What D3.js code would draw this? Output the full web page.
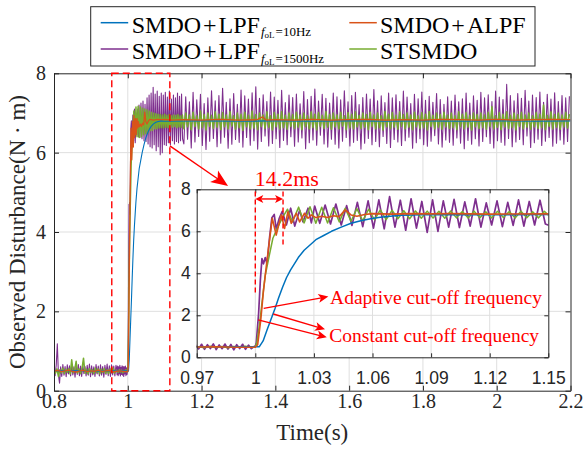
<!DOCTYPE html>
<html lang="en">
<head>
<meta charset="UTF-8">
<title>Observed disturbance</title>
<script src="https://cdn.jsdelivr.net/npm/d3@7/dist/d3.min.js"></script>
<style>
  body { margin: 0; background: #fff; }
  svg { display: block; }
  svg text.serif { font-family: 'Liberation Serif', 'Times New Roman', serif; }
  svg text.sans { font-family: 'Liberation Sans', Arial, sans-serif; }
</style>
</head>
<body>
<svg id="chart" width="585" height="451"></svg>
<script>
// matlab default colours
const colBlue = '#0072BD', colOrange = '#D95319', colPurple = '#7E2F8E', colGreen = '#77AC30';
const red = '#FF0000';

const mainXTicks = [0.8, 1, 1.2, 1.4, 1.6, 1.8, 2, 2.2];
const mainYTicks = [0, 2, 4, 6, 8];
const insetXTicks = [0.97, 1, 1.03, 1.06, 1.09, 1.12, 1.15];
const insetYTicks = [0, 2, 4, 6, 8];

// ---- SMDO+LPF 1500Hz (purple) ----
// from 0.8 s, one sample every 3 ms
const purplePreA = [0.62,0.38,0.64,1.18,0.40,0.19,0.60,0.36,0.66,0.39,0.61,0.35,0.65,0.42,0.63,0.37,0.67,0.40,0.60,0.34,
  0.64,0.41,0.66,0.38,0.62,0.36,0.65,0.43,0.61,0.37,0.64,0.39,0.67,0.35,0.63,0.40,0.60,0.36,0.66,0.42,
  0.62,0.37,0.65,0.39,0.61,0.34,0.64,0.41,0.67,0.38,0.63,0.36,0.65,0.40,0.62,0.37,0.64];
// from 0.9695 s, every 1.5 ms
const purplePreB = [0.58,0.40,0.62,0.38,0.60,0.42,0.64,0.37,0.59,0.41,0.63,0.39,0.61,0.36,0.60,0.42,0.62,0.38,0.58,0.41,0.52];
const purpleStep = [[1.0,0.5],[1.0005,0.7],[1.0017,2.1],[1.0026,3.7],[1.0034,4.7],[1.0042,4.45],[1.0051,4.75],[1.006,4.45],
  [1.0073,5.7],[1.0085,6.65],[1.0097,6.8],[1.0107,6.1],[1.0122,6.6],[1.0138,6.95],[1.0159,6.3],[1.0181,7.1],
  [1.0202,6.25],[1.0227,7.0],[1.0244,6.45],[1.027,7.1],[1.0287,6.4],[1.0304,7.2]];
// from 1.033 s, every 2.75 ms
const purpleMid = [6.38,7.25,6.35,7.3,6.3,7.22,6.28,7.38,6.22,7.45,6.15,7.5,6.12,7.65,6.2,7.48,6.05,7.55,6.15,7.42,
  5.95,7.5,6.0,7.45,6.2,7.52,6.18,7.4,6.25,7.55,6.2,7.35,6.3,7.45,6.22,7.38,6.28,7.5,6.25,7.42,6.3,7.48,6.35];
// from 1.152 s, every 5 ms
const purpleTail = [
  6.22,7.41, 6.34,7.28, 6.12,7.52, 6.27,7.33, 6.41,7.47, 6.18,7.24, 6.08,7.38, 6.29,7.56, 6.36,7.31, 6.15,7.44,
  6.24,7.62, 6.39,7.27, 6.11,7.36, 6.21,7.49, 6.33,7.22, 6.26,7.58, 6.14,7.43, 6.38,7.35, 6.19,7.51, 6.3,7.66,
  6.09,7.37, 6.28,7.46, 6.42,7.29, 6.17,7.53, 6.23,7.4, 6.35,7.32, 6.13,7.57, 6.31,7.26, 6.2,7.45, 6.4,7.39,
  6.16,7.48, 6.27,7.23, 6.37,7.54, 6.1,7.34, 6.25,7.42, 6.32,7.6, 6.19,7.3, 6.44,7.47, 6.22,7.37, 6.14,7.25,
  6.34,7.5, 6.21,7.41, 6.12,7.33, 6.29,7.56, 6.38,7.28, 6.17,7.44, 6.26,7.52, 6.31,7.21, 6.09,7.39, 6.24,7.48,
  6.36,7.35, 6.2,7.59, 6.28,7.31, 6.15,7.43, 6.41,7.26, 6.23,7.5, 6.13,7.38, 6.33,7.46, 6.27,7.29, 6.18,7.55,
  6.3,7.4, 6.39,7.24, 6.11,7.47, 6.25,7.36, 6.35,7.53, 6.2,7.32, 6.16,7.42, 6.29,7.27, 6.43,7.49, 6.22,7.34,
  6.14,7.22, 6.32,7.41, 6.26,7.3, 6.19,7.45, 6.37,7.28, 6.24,7.36, 6.1,7.5, 6.31,7.25, 6.21,7.43, 6.35,7.32,
  6.17,7.52, 6.28,7.38, 6.4,7.46, 6.23,7.29, 6.12,7.55, 6.3,7.4, 6.26,7.34, 6.19,7.72, 6.36,7.44, 6.15,7.31,
  6.27,7.49, 6.33,7.37, 6.2,7.57, 6.42,7.3, 6.13,7.45, 6.25,7.39, 6.34,7.53, 6.18,7.27, 6.29,7.47, 6.38,7.35,
  6.16,7.51, 6.24,7.29, 6.32,7.44, 6.21,7.38, 6.28,7.42];

// ---- STSMDO (green) ----
// from 0.8 s, every 4 ms
const greenPreA = [0.52,0.44,0.55,0.36,0.53,0.45,0.57,0.43,0.54,0.46,0.56,0.42,0.78,0.45,0.53,0.74,0.44,0.55,0.43,0.57,
  0.82,0.44,0.54,0.42,0.56,0.46,0.53,0.43,0.57,0.45,0.55,0.42,0.54,0.46,0.56,0.44,0.53,0.43,0.55,0.45,0.57,0.44,0.52];
// from 0.971 s, every 3 ms
const greenPreB = [0.5,0.46,0.53,0.47,0.52,0.45,0.51,0.48,0.53,0.47];
const greenStep = [[1.0,0.5],[1.0008,0.7],[1.0022,1.6],[1.0039,2.97],[1.0051,3.9],[1.0065,4.55],[1.009,5.67],[1.0116,6.22],
  [1.0142,6.7],[1.0165,7.05],[1.019,6.45],[1.0222,7.15],[1.025,6.4],[1.028,7.17],[1.031,6.38]];
// from 1.034 s, every 3 ms
const greenMid = [7.15,6.4,7.12,6.45,7.1,6.48,7.08,6.5,7.05,6.55,7.02,6.56,7.0,6.6,6.98,6.6,6.97,6.62,6.96,6.63,
  6.95,6.62,6.97,6.64,6.94,6.63,6.96,6.65,6.93,6.64,6.95,6.66,6.94,6.63,6.96,6.65,6.93,6.64,6.95];
// from 1.152 s, every 5 ms
const greenTail = [
  6.6,7.0, 6.65,6.95, 6.58,7.02, 6.66,6.93, 6.6,7.05, 6.63,6.96, 6.57,7.0, 6.66,6.94, 6.61,7.03, 6.64,6.97,
  6.58,7.01, 6.65,6.95, 6.6,7.04, 6.67,6.93, 6.59,7.0, 6.63,6.97, 6.56,7.02, 6.65,6.94, 6.6,7.05, 6.62,6.96,
  6.58,7.0, 6.66,6.95, 6.61,7.03, 6.64,6.93, 6.57,7.01, 6.65,6.97, 6.6,7.04, 6.63,6.94, 6.59,7.0, 6.66,6.96,
  6.61,7.02, 6.64,6.95, 6.58,7.0, 6.65,6.93, 6.6,7.03, 6.63,6.97, 6.57,7.01, 6.66,6.94, 6.61,7.04, 6.64,6.96,
  6.59,7.0, 6.65,6.95, 6.6,7.02, 6.67,6.93, 6.58,7.01, 6.63,6.97, 6.6,7.03, 6.65,6.94, 6.61,7.0, 6.64,6.96,
  6.58,7.02, 6.66,6.95, 6.6,7.0, 6.63,6.93, 6.57,7.04, 6.65,6.97, 6.61,7.01, 6.64,6.94, 6.59,7.03, 6.66,6.96,
  6.6,7.0, 6.64,6.95, 6.58,7.02, 6.65,6.93, 6.61,7.01, 6.63,6.97, 6.57,7.04, 6.66,6.94, 6.6,7.0, 6.64,6.96,
  6.59,7.02, 6.65,6.95, 6.61,7.0, 6.63,6.93, 6.58,7.03, 6.66,6.97, 6.6,7.01, 6.64,6.94, 6.57,7.0, 6.65,6.96,
  6.61,7.0, 6.63,6.95, 6.59,7.02, 6.66,7.16, 6.6,6.93, 6.64,7.01, 6.58,6.97, 6.65,7.03, 6.61,6.94, 6.63,7.0,
  6.57,6.96, 6.66,7.02, 6.6,6.95, 6.64,7.0, 6.59,6.93, 6.65,7.01, 6.61,6.97, 6.63,7.2, 6.58,6.94, 6.66,7.03,
  6.6,6.96, 6.64,7.0, 6.59,6.95, 6.65,7.02, 6.62,6.97];

// ---- SMDO+ALPF (orange) ----
// from 0.8 s, every 10 ms
const orangePre = [0.49,0.51,0.48,0.5,0.52,0.49,0.47,0.5,0.51,0.48,0.5,0.49,0.52,0.48,0.5,0.51,0.47,0.49,0.5,0.48];
const orangeStep = [[1.0,0.48],[1.0012,0.6],[1.0028,1.78],[1.0042,3.2],[1.0058,4.46],[1.0075,5.74],[1.0087,6.62],
  [1.0107,5.82],[1.0133,6.78],[1.015,6.14],[1.0167,6.93],[1.0184,6.38],[1.021,6.86],[1.0227,6.45],[1.0252,6.86],
  [1.027,6.62],[1.0287,6.78],[1.031,6.65],[1.034,6.72],[1.037,6.66],[1.04,6.74],[1.043,6.7],[1.046,7.02],[1.049,6.78],
  [1.052,6.72],[1.056,6.8],[1.06,6.84],[1.07,6.82],[1.08,6.84],[1.09,6.83],[1.1,6.84],[1.12,6.82]];
const orangeTail = [[1.15,6.83],[1.2,6.82],[1.25,6.84],[1.3,6.82],[1.35,6.83],[1.365,6.9],[1.375,6.82],[1.4,6.83],
  [1.45,6.82],[1.5,6.84],[1.55,6.82],[1.6,6.83],[1.65,6.84],[1.7,6.82],[1.75,6.83],[1.8,6.82],[1.85,6.84],[1.9,6.83],
  [1.95,6.82],[2.0,6.84],[2.05,6.82],[2.1,6.83],[2.15,6.84],[2.2,6.83]];

// ---- SMDO+LPF 10Hz (blue) ----
const bluePts = [[0.8,0.5],[0.85,0.51],[0.9,0.49],[0.95,0.5],[1.0,0.5],[1.002,0.5],[1.004,0.78],[1.006,1.3],[1.008,1.8],
  [1.01,2.3],[1.012,2.85],[1.014,3.35],[1.016,3.8],[1.018,4.15],[1.02,4.45],[1.022,4.75],[1.025,5.1],[1.028,5.35],
  [1.031,5.6],[1.035,5.8],[1.039,6.0],[1.044,6.2],[1.049,6.38],[1.054,6.5],[1.059,6.6],[1.064,6.67],[1.069,6.72],
  [1.075,6.76],[1.08,6.78],[1.09,6.8],[1.1,6.79],[1.2,6.8],[1.3,6.79],[1.4,6.8],[1.5,6.79],[1.6,6.8],[1.7,6.79],
  [1.8,6.8],[1.9,6.79],[2.0,6.8],[2.1,6.79],[2.2,6.8]];

function grid(t0, dt, vals) { return vals.map((v, i) => [t0 + i * dt, v]); }

const purpleData = [...grid(0.8, 0.003, purplePreA), ...grid(0.9695, 0.0015, purplePreB), ...purpleStep,
  ...grid(1.033, 0.00275, purpleMid), ...grid(1.152, 0.005, purpleTail)];
const greenData = [...grid(0.8, 0.004, greenPreA), ...grid(0.971, 0.003, greenPreB), ...greenStep,
  ...grid(1.034, 0.003, greenMid), ...grid(1.152, 0.005, greenTail)];
const orangeData = [...grid(0.8, 0.01, orangePre), ...orangeStep, ...orangeTail];
const blueData = bluePts;

// drawing order: purple at the back, orange on top
const series = [
  {data: purpleData, color: colPurple, wMain: 1.1, wInset: 1.7},
  {data: greenData, color: colGreen, wMain: 1.5, wInset: 1.5},
  {data: blueData, color: colBlue, wMain: 1.1, wInset: 1.5},
  {data: orangeData, color: colOrange, wMain: 1.3, wInset: 1.6}
];

const svg = d3.select('#chart');

const x = d3.scaleLinear().domain([0.8, 2.2]).range([54, 570.5]);
const y = d3.scaleLinear().domain([0, 8]).range([390.7, 73.3]);
const xi = d3.scaleLinear().domain([0.97, 1.15]).range([196.7, 548.3]);
const yi = d3.scaleLinear().domain([0, 8]).range([357.3, 189.3]);

const defs = svg.append('defs');
defs.append('clipPath').attr('id', 'clipMain').append('rect')
  .attr('x', x(0.8)).attr('y', y(8)).attr('width', x(2.2) - x(0.8)).attr('height', y(0) - y(8));
defs.append('clipPath').attr('id', 'clipInset').append('rect')
  .attr('x', xi(0.97)).attr('y', yi(8)).attr('width', xi(1.15) - xi(0.97)).attr('height', yi(0) - yi(8));

// ---------- main axes ----------
const main = svg.append('g');
main.append('g').selectAll('line').data(mainXTicks.slice(1, -1)).enter().append('line')
  .attr('x1', d => x(d)).attr('x2', d => x(d)).attr('y1', y(0)).attr('y2', y(8))
  .attr('stroke', '#dfdfdf').attr('stroke-width', 1);
main.append('g').selectAll('line').data(mainYTicks.slice(1, -1)).enter().append('line')
  .attr('y1', d => y(d)).attr('y2', d => y(d)).attr('x1', x(0.8)).attr('x2', x(2.2))
  .attr('stroke', '#dfdfdf').attr('stroke-width', 1);

const lineMain = d3.line().x(d => x(d[0])).y(d => y(d[1]));
const curvesMain = main.append('g').attr('clip-path', 'url(#clipMain)');
series.forEach(s => {
  curvesMain.append('path').attr('d', lineMain(s.data)).attr('fill', 'none')
    .attr('stroke', s.color).attr('stroke-width', s.wMain).attr('stroke-linejoin', 'round');
});

function styleAxis(g, cls, size) {
  g.attr('font-family', null).attr('font-size', null);
  g.select('.domain').attr('stroke', '#262626').attr('stroke-width', 1);
  g.selectAll('.tick line').attr('stroke', '#262626').attr('stroke-width', 1);
  g.selectAll('.tick text').attr('class', cls).style('font-size', size + 'px').attr('fill', '#262626');
}
const fmt = d3.format('~g');

main.append('g').attr('transform', `translate(0,${y(0)})`)
  .call(d3.axisBottom(x).tickValues(mainXTicks).tickFormat(fmt).tickSizeInner(-5).tickSizeOuter(0).tickPadding(3))
  .call(g => styleAxis(g, 'serif', 20));
main.append('g').attr('transform', `translate(0,${y(8)})`)
  .call(d3.axisTop(x).tickValues(mainXTicks).tickFormat('').tickSizeInner(-5).tickSizeOuter(0))
  .call(g => styleAxis(g, 'serif', 20));
main.append('g').attr('transform', `translate(${x(0.8)},0)`)
  .call(d3.axisLeft(y).tickValues(mainYTicks).tickFormat(fmt).tickSizeInner(-5).tickSizeOuter(0).tickPadding(8))
  .call(g => styleAxis(g, 'serif', 20));
main.append('g').attr('transform', `translate(${x(2.2)},0)`)
  .call(d3.axisRight(y).tickValues(mainYTicks).tickFormat('').tickSizeInner(-5).tickSizeOuter(0))
  .call(g => styleAxis(g, 'serif', 20));

svg.append('text').attr('class', 'serif').attr('x', (x(0.8) + x(2.2)) / 2).attr('y', 440)
  .attr('text-anchor', 'middle').style('font-size', '23px').attr('fill', '#262626')
  .text('Time(s)');
svg.append('text').attr('class', 'serif').attr('transform', `translate(25,${(y(0) + y(8)) / 2}) rotate(-90)`)
  .attr('text-anchor', 'middle').style('font-size', '23px').attr('fill', '#262626')
  .text('Observed Disturbance(N \u00b7 m)');

// zoom window on the main plot
const zoomT0 = 0.9566, zoomT1 = 1.114;
svg.append('rect').attr('x', x(zoomT0)).attr('y', y(8)).attr('width', x(zoomT1) - x(zoomT0)).attr('height', y(0) - y(8))
  .attr('fill', 'none').attr('stroke', red).attr('stroke-width', 1.4).attr('stroke-dasharray', '7,4');

// ---------- inset ----------
const inset = svg.append('g');
inset.append('rect').attr('x', xi(0.97)).attr('y', yi(8)).attr('width', xi(1.15) - xi(0.97)).attr('height', yi(0) - yi(8))
  .attr('fill', '#fff');
inset.append('g').selectAll('line').data(insetXTicks.slice(1, -1)).enter().append('line')
  .attr('x1', d => xi(d)).attr('x2', d => xi(d)).attr('y1', yi(0)).attr('y2', yi(8))
  .attr('stroke', '#dfdfdf').attr('stroke-width', 1);
inset.append('g').selectAll('line').data(insetYTicks.slice(1, -1)).enter().append('line')
  .attr('y1', d => yi(d)).attr('y2', d => yi(d)).attr('x1', xi(0.97)).attr('x2', xi(1.15))
  .attr('stroke', '#dfdfdf').attr('stroke-width', 1);

const lineInset = d3.line().x(d => xi(d[0])).y(d => yi(d[1]));
const curvesInset = inset.append('g').attr('clip-path', 'url(#clipInset)');
series.forEach(s => {
  curvesInset.append('path').attr('d', lineInset(s.data)).attr('fill', 'none')
    .attr('stroke', s.color).attr('stroke-width', s.wInset).attr('stroke-linejoin', 'round');
});

inset.append('g').attr('transform', `translate(0,${yi(0)})`)
  .call(d3.axisBottom(xi).tickValues(insetXTicks).tickFormat(fmt).tickSizeInner(-4).tickSizeOuter(0).tickPadding(14))
  .call(g => styleAxis(g, 'sans', 17.5));
inset.append('g').attr('transform', `translate(0,${yi(8)})`)
  .call(d3.axisTop(xi).tickValues(insetXTicks).tickFormat('').tickSizeInner(-4).tickSizeOuter(0))
  .call(g => styleAxis(g, 'sans', 17.5));
inset.append('g').attr('transform', `translate(${xi(0.97)},0)`)
  .call(d3.axisLeft(yi).tickValues(insetYTicks).tickFormat(fmt).tickSizeInner(-4).tickSizeOuter(0).tickPadding(6))
  .call(g => styleAxis(g, 'sans', 17.5));
inset.append('g').attr('transform', `translate(${xi(1.15)},0)`)
  .call(d3.axisRight(yi).tickValues(insetYTicks).tickFormat('').tickSizeInner(-4).tickSizeOuter(0))
  .call(g => styleAxis(g, 'sans', 17.5));

// ---------- red annotations ----------
function arrowHead(g, x1, y1, x2, y2, len, half) {
  const a = Math.atan2(y2 - y1, x2 - x1);
  const ux = Math.cos(a), uy = Math.sin(a);
  const bx = x2 - ux * len, by = y2 - uy * len;
  const nx = x2 - ux * len * 0.75, ny = y2 - uy * len * 0.75;
  g.append('path')
    .attr('d', `M${x2},${y2}L${bx - uy * half},${by + ux * half}L${nx},${ny}L${bx + uy * half},${by - ux * half}Z`)
    .attr('fill', red);
}
function arrow(g, x1, y1, x2, y2, len, half, w) {
  const a = Math.atan2(y2 - y1, x2 - x1);
  g.append('line').attr('x1', x1).attr('y1', y1)
    .attr('x2', x2 - Math.cos(a) * len * 0.7).attr('y2', y2 - Math.sin(a) * len * 0.7)
    .attr('stroke', red).attr('stroke-width', w);
  arrowHead(g, x1, y1, x2, y2, len, half);
}
const ann = svg.append('g');

// from zoom window to inset
arrow(ann, x(zoomT1), y(6.17), x(1.2718), y(5.16), 17, 7, 1.4);

// 14.2 ms settling marks
const tA = 1.0, tB = 1.0142;
ann.append('line').attr('x1', xi(tA)).attr('x2', xi(tA)).attr('y1', yi(7.9)).attr('y2', yi(2.95))
  .attr('stroke', red).attr('stroke-width', 1.4).attr('stroke-dasharray', '5,3');
ann.append('line').attr('x1', xi(tB)).attr('x2', xi(tB)).attr('y1', yi(7.9)).attr('y2', yi(5.33))
  .attr('stroke', red).attr('stroke-width', 1.4).attr('stroke-dasharray', '5,3');
ann.append('line').attr('x1', xi(tA) + 6).attr('x2', xi(tB) - 6).attr('y1', yi(7.54)).attr('y2', yi(7.54))
  .attr('stroke', red).attr('stroke-width', 1.4);
arrowHead(ann, xi(tB), yi(7.54), xi(tA), yi(7.54), 8, 4);
arrowHead(ann, xi(tA), yi(7.54), xi(tB), yi(7.54), 8, 4);
ann.append('text').attr('class', 'serif').attr('x', xi(0.9997)).attr('y', yi(8.15))
  .style('font-size', '22px').attr('fill', red).text('14.2ms');

// cut-off frequency callouts
arrow(ann, xi(1.0043), yi(2.33), xi(1.0374), yi(2.89), 10, 4.5, 1.4);
arrow(ann, xi(1.0092), yi(2.06), xi(1.0357), yi(1.33), 10, 4.5, 1.4);
arrow(ann, xi(1.0015), yi(1.78), xi(1.0366), yi(0.95), 10, 4.5, 1.4);
ann.append('text').attr('class', 'serif').attr('x', xi(1.0383)).attr('y', yi(2.54))
  .style('font-size', '19.5px').attr('fill', red).text('Adaptive cut-off frequency');
ann.append('text').attr('class', 'serif').attr('x', xi(1.0379)).attr('y', yi(0.74))
  .style('font-size', '19.5px').attr('fill', red).text('Constant cut-off frequency');

// ---------- legend ----------
const legend = svg.append('g');
legend.append('rect').attr('x', 90.7).attr('y', 6.7).attr('width', 444.3).attr('height', 59.3)
  .attr('fill', '#fff').attr('stroke', '#262626').attr('stroke-width', 1);

const legendItems = [
  {color: colBlue, lx: 100.7, ly: 22.7, tx: 131.7, ty: 32.7, main: ['SMDO', 'LPF'], sub: '10Hz'},
  {color: colOrange, lx: 349.3, ly: 22.7, tx: 380, ty: 32.7, main: ['SMDO', 'ALPF'], sub: null},
  {color: colPurple, lx: 100.7, ly: 49, tx: 131.7, ty: 59.3, main: ['SMDO', 'LPF'], sub: '1500Hz'},
  {color: colGreen, lx: 349.3, ly: 49, tx: 380, ty: 59.3, main: ['STSMDO'], sub: null}
];
legendItems.forEach(it => {
  legend.append('line').attr('x1', it.lx).attr('x2', it.lx + 27.5).attr('y1', it.ly).attr('y2', it.ly)
    .attr('stroke', it.color).attr('stroke-width', 1.5);
  const t = legend.append('text').attr('class', 'serif').attr('x', it.tx).attr('y', it.ty)
    .style('font-size', '24px').attr('fill', '#000');
  t.append('tspan').text(it.main[0]);
  if (it.main.length > 1) {
    t.append('tspan').attr('dx', 2).text('+');
    t.append('tspan').attr('dx', 2).text(it.main[1]);
  }
  if (it.sub) {
    t.append('tspan').attr('dx', 1).attr('dy', 3.5).style('font-size', '13px').style('font-style', 'italic').text('f');
    t.append('tspan').attr('dy', 2).style('font-size', '9px').text('oL');
    t.append('tspan').attr('dx', 1).attr('dy', -2).style('font-size', '13px').text('=' + it.sub);
  }
});
</script>
</body>
</html>
